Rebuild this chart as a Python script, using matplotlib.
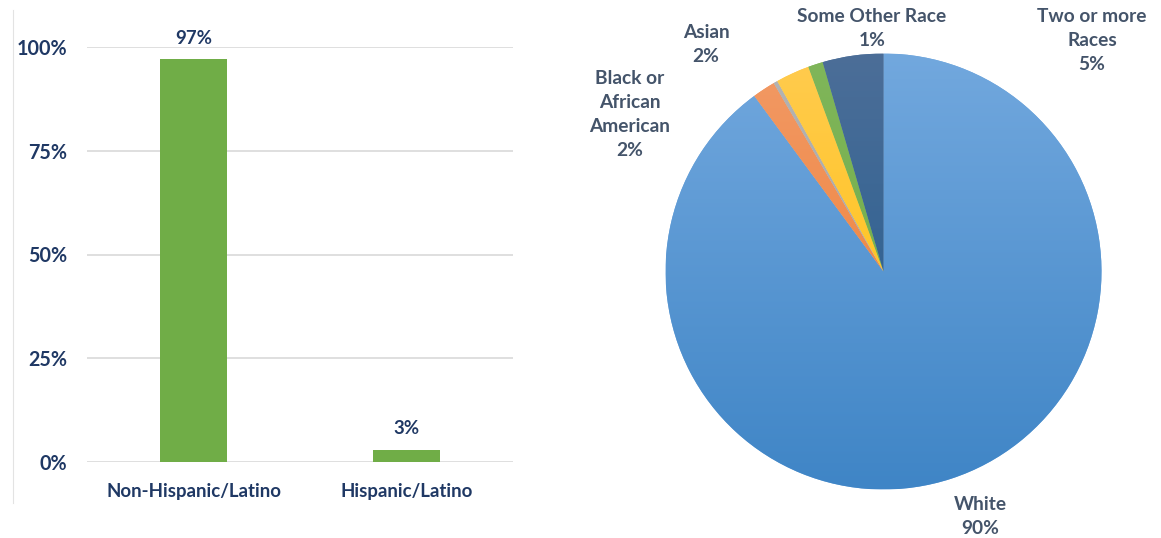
import matplotlib
matplotlib.use('Agg')
import matplotlib.pyplot as plt
import numpy as np
from matplotlib.colors import LinearSegmentedColormap
from matplotlib.lines import Line2D

# ---------------- data ----------------
eth_cats = ['Non-Hispanic/Latino', 'Hispanic/Latino']
eth_vals = [0.97, 0.03]
eth_labels = ['97%', '3%']
y_ticks = [0, 0.25, 0.5, 0.75, 1.0]
y_tick_labels = ['0%', '25%', '50%', '75%', '100%']

race_cats = ['White', 'Black or\nAfrican\nAmerican', 'American Indian',
             'Asian', 'Some Other Race', 'Two or more\nRaces']
race_vals = [89.9, 1.7, 0.3, 2.5, 1.1, 4.5]
race_pct_labels = ['90%', '2%', '', '2%', '1%', '5%']

# ---------------- styles ----------------
W, H = 1161, 538
navy = '#1F3864'
label_gray = '#44546A'
bar_green = '#70AD47'
grad_colors = [('#72A8DE', '#3F85C6'),   # White
               ('#F29A66', '#ED7A2C'),   # Black
               ('#B4B4B4', '#A0A0A0'),   # AIAN
               ('#FFCB4F', '#FFC000'),   # Asian
               ('#80B65A', '#6CA944'),   # Other
               ('#4C6E98', '#1D5A8E')]   # Two+
# label pixel positions (text only)
label_px = [(980, 516), (630, 115), None, (706, 45), (872, 29), (1092, 41)]

plt.rcParams['font.family'] = ['Lato', 'DejaVu Sans']

fig = plt.figure(figsize=(W / 100, H / 100), dpi=100)

# thin left border line
fig.add_artist(Line2D([13 / W, 13 / W], [1 - 10 / H, 1 - 503 / H],
                      color='#E3E3E3', lw=0.8, transform=fig.transFigure))

# ---------------- bar chart ----------------
axb = fig.add_axes([87 / W, 1 - 462 / H, 426 / W, 415 / H])
x = np.arange(len(eth_cats))
bars = axb.bar(x, eth_vals, width=0.315, color=bar_green, zorder=3)
axb.set_xlim(-0.5, 1.5)
axb.set_ylim(0, 1)
axb.set_yticks(y_ticks)
axb.set_yticklabels(y_tick_labels)
axb.set_xticks(x)
axb.set_xticklabels(eth_cats)
for s in axb.spines.values():
    s.set_visible(False)
axb.tick_params(axis='both', length=0, colors=navy)
axb.tick_params(axis='y', pad=14, labelsize=14.2)
axb.tick_params(axis='x', pad=15, labelsize=13.4)
for t in axb.get_xticklabels() + axb.get_yticklabels():
    t.set_fontweight('bold')
    t.set_color(navy)
axb.yaxis.grid(True, color='#D9D9D9', lw=1.2, zorder=0)
axb.set_axisbelow(True)
for b, lab in zip(bars, eth_labels):
    axb.annotate(lab, (b.get_x() + b.get_width() / 2, b.get_height()),
                 xytext=(0, 15), textcoords='offset points',
                 ha='center', va='center', fontsize=13.4, fontweight='bold',
                 color=navy, annotation_clip=False)

# ---------------- pie chart ----------------
cx, cy, r = 883.5, 271.5, 218
axp = fig.add_axes([(cx - r) / W, 1 - (cy + r) / H, 2 * r / W, 2 * r / H])
wedges, _ = axp.pie(race_vals, startangle=90, counterclock=False,
                    colors=[c[0] for c in grad_colors], radius=1,
                    wedgeprops=dict(linewidth=0))
axp.axis('off')
grad = np.linspace(1, 0, 256).reshape(-1, 1)
for w, (ctop, cbot) in zip(wedges, grad_colors):
    cmap = LinearSegmentedColormap.from_list('g', [cbot, ctop])
    im = axp.imshow(grad, cmap=cmap, extent=[-1, 1, -1, 1], origin='upper',
                    aspect='auto', zorder=2, vmin=0, vmax=1,
                    interpolation='bilinear')
    im.set_clip_path(w)
axp.set_xlim(-1, 1)
axp.set_ylim(-1, 1)

for cat, pct, pos in zip(race_cats, race_pct_labels, label_px):
    if pos is None:
        continue
    fig.text(pos[0] / W, 1 - pos[1] / H, cat + '\n' + pct,
             ha='center', va='center', fontsize=13.8, color=label_gray,
             fontweight='bold', linespacing=1.5)

fig.savefig('out.png', dpi=100)
